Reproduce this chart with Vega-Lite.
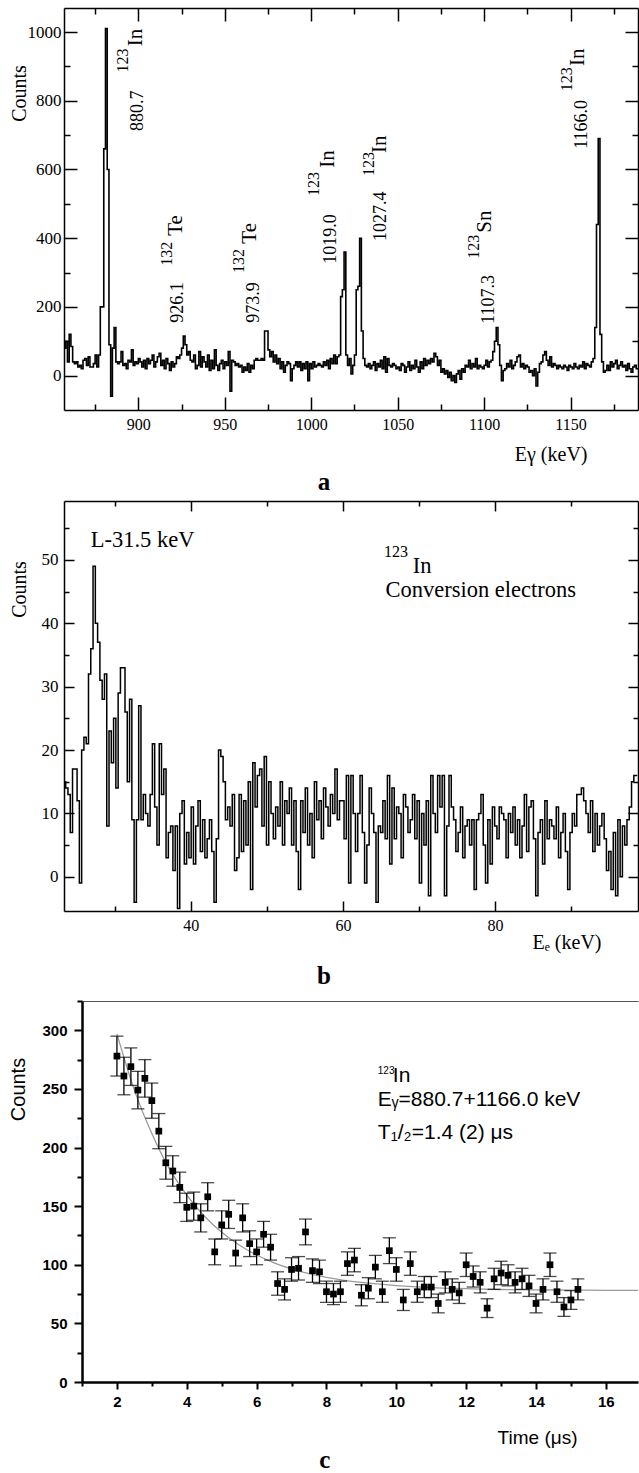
{
"$schema": "https://vega.github.io/schema/vega-lite/v6.json",
"background": "white",
"padding": {"left": 8, "top": 7, "right": 0, "bottom": 0},
"columns": 1,
"align": "none",
"spacing": 5,
"config": {"view": {"stroke": null}, "axis": {"grid": false, "labelOverlap": false, "labelColor": "black", "titleColor": "black", "tickColor": "black", "domainColor": "black"}},
"datasets": {
"sa": [{"e":857,"c":80},{"e":858,"c":100},{"e":859,"c":40},{"e":860,"c":120},{"e":861,"c":85},{"e":862,"c":40},{"e":863,"c":35},{"e":864,"c":40},{"e":865,"c":25},{"e":866,"c":30},{"e":867,"c":20},{"e":868,"c":45},{"e":869,"c":50},{"e":870,"c":30},{"e":871,"c":55},{"e":872,"c":25},{"e":873,"c":25},{"e":874,"c":35},{"e":875,"c":60},{"e":876,"c":25},{"e":877,"c":60},{"e":878,"c":200},{"e":879,"c":200},{"e":880,"c":660},{"e":881,"c":1010},{"e":882,"c":600},{"e":883,"c":90},{"e":884,"c":-60},{"e":885,"c":80},{"e":886,"c":140},{"e":887,"c":40},{"e":888,"c":35},{"e":889,"c":40},{"e":890,"c":70},{"e":891,"c":30},{"e":892,"c":35},{"e":893,"c":20},{"e":894,"c":45},{"e":895,"c":40},{"e":896,"c":75},{"e":897,"c":30},{"e":898,"c":40},{"e":899,"c":35},{"e":900,"c":50},{"e":901,"c":40},{"e":902,"c":25},{"e":903,"c":45},{"e":904,"c":20},{"e":905,"c":50},{"e":906,"c":35},{"e":907,"c":45},{"e":908,"c":60},{"e":909,"c":25},{"e":910,"c":40},{"e":911,"c":55},{"e":912,"c":65},{"e":913,"c":30},{"e":914,"c":45},{"e":915,"c":20},{"e":916,"c":50},{"e":917,"c":35},{"e":918,"c":15},{"e":919,"c":40},{"e":920,"c":25},{"e":921,"c":35},{"e":922,"c":55},{"e":923,"c":50},{"e":924,"c":60},{"e":925,"c":80},{"e":926,"c":115},{"e":927,"c":90},{"e":928,"c":60},{"e":929,"c":70},{"e":930,"c":45},{"e":931,"c":40},{"e":932,"c":60},{"e":933,"c":20},{"e":934,"c":30},{"e":935,"c":70},{"e":936,"c":25},{"e":937,"c":55},{"e":938,"c":40},{"e":939,"c":25},{"e":940,"c":60},{"e":941,"c":15},{"e":942,"c":45},{"e":943,"c":20},{"e":944,"c":75},{"e":945,"c":30},{"e":946,"c":15},{"e":947,"c":35},{"e":948,"c":45},{"e":949,"c":20},{"e":950,"c":40},{"e":951,"c":30},{"e":952,"c":70},{"e":953,"c":-45},{"e":954,"c":45},{"e":955,"c":40},{"e":956,"c":30},{"e":957,"c":35},{"e":958,"c":25},{"e":959,"c":30},{"e":960,"c":10},{"e":961,"c":25},{"e":962,"c":15},{"e":963,"c":35},{"e":964,"c":10},{"e":965,"c":30},{"e":966,"c":20},{"e":967,"c":45},{"e":968,"c":50},{"e":969,"c":45},{"e":970,"c":45},{"e":971,"c":50},{"e":972,"c":45},{"e":973,"c":130},{"e":974,"c":130},{"e":975,"c":75},{"e":976,"c":55},{"e":977,"c":70},{"e":978,"c":40},{"e":979,"c":60},{"e":980,"c":35},{"e":981,"c":50},{"e":982,"c":20},{"e":983,"c":40},{"e":984,"c":10},{"e":985,"c":30},{"e":986,"c":40},{"e":987,"c":35},{"e":988,"c":-15},{"e":989,"c":20},{"e":990,"c":30},{"e":991,"c":40},{"e":992,"c":25},{"e":993,"c":40},{"e":994,"c":15},{"e":995,"c":35},{"e":996,"c":20},{"e":997,"c":40},{"e":998,"c":-15},{"e":999,"c":35},{"e":1000,"c":20},{"e":1001,"c":40},{"e":1002,"c":25},{"e":1003,"c":30},{"e":1004,"c":35},{"e":1005,"c":30},{"e":1006,"c":25},{"e":1007,"c":40},{"e":1008,"c":30},{"e":1009,"c":45},{"e":1010,"c":20},{"e":1011,"c":50},{"e":1012,"c":35},{"e":1013,"c":60},{"e":1014,"c":35},{"e":1015,"c":55},{"e":1016,"c":60},{"e":1017,"c":230},{"e":1018,"c":250},{"e":1019,"c":360},{"e":1020,"c":60},{"e":1021,"c":30},{"e":1022,"c":50},{"e":1023,"c":5},{"e":1024,"c":30},{"e":1025,"c":60},{"e":1026,"c":250},{"e":1027,"c":260},{"e":1028,"c":400},{"e":1029,"c":130},{"e":1030,"c":50},{"e":1031,"c":30},{"e":1032,"c":25},{"e":1033,"c":35},{"e":1034,"c":20},{"e":1035,"c":30},{"e":1036,"c":40},{"e":1037,"c":15},{"e":1038,"c":35},{"e":1039,"c":25},{"e":1040,"c":45},{"e":1041,"c":20},{"e":1042,"c":55},{"e":1043,"c":10},{"e":1044,"c":50},{"e":1045,"c":30},{"e":1046,"c":25},{"e":1047,"c":35},{"e":1048,"c":30},{"e":1049,"c":20},{"e":1050,"c":25},{"e":1051,"c":15},{"e":1052,"c":35},{"e":1053,"c":30},{"e":1054,"c":10},{"e":1055,"c":25},{"e":1056,"c":40},{"e":1057,"c":15},{"e":1058,"c":30},{"e":1059,"c":20},{"e":1060,"c":45},{"e":1061,"c":25},{"e":1062,"c":10},{"e":1063,"c":40},{"e":1064,"c":20},{"e":1065,"c":50},{"e":1066,"c":30},{"e":1067,"c":45},{"e":1068,"c":35},{"e":1069,"c":50},{"e":1070,"c":40},{"e":1071,"c":65},{"e":1072,"c":55},{"e":1073,"c":30},{"e":1074,"c":45},{"e":1075,"c":10},{"e":1076,"c":20},{"e":1077,"c":5},{"e":1078,"c":15},{"e":1079,"c":-5},{"e":1080,"c":10},{"e":1081,"c":-15},{"e":1082,"c":0},{"e":1083,"c":-20},{"e":1084,"c":5},{"e":1085,"c":15},{"e":1086,"c":-10},{"e":1087,"c":20},{"e":1088,"c":10},{"e":1089,"c":30},{"e":1090,"c":25},{"e":1091,"c":45},{"e":1092,"c":20},{"e":1093,"c":35},{"e":1094,"c":25},{"e":1095,"c":50},{"e":1096,"c":20},{"e":1097,"c":30},{"e":1098,"c":25},{"e":1099,"c":20},{"e":1100,"c":30},{"e":1101,"c":45},{"e":1102,"c":25},{"e":1103,"c":40},{"e":1104,"c":45},{"e":1105,"c":70},{"e":1106,"c":100},{"e":1107,"c":140},{"e":1108,"c":90},{"e":1109,"c":30},{"e":1110,"c":-15},{"e":1111,"c":15},{"e":1112,"c":20},{"e":1113,"c":35},{"e":1114,"c":25},{"e":1115,"c":45},{"e":1116,"c":20},{"e":1117,"c":30},{"e":1118,"c":40},{"e":1119,"c":55},{"e":1120,"c":60},{"e":1121,"c":25},{"e":1122,"c":35},{"e":1123,"c":20},{"e":1124,"c":30},{"e":1125,"c":25},{"e":1126,"c":10},{"e":1127,"c":15},{"e":1128,"c":0},{"e":1129,"c":20},{"e":1130,"c":-30},{"e":1131,"c":10},{"e":1132,"c":35},{"e":1133,"c":40},{"e":1134,"c":60},{"e":1135,"c":70},{"e":1136,"c":45},{"e":1137,"c":30},{"e":1138,"c":55},{"e":1139,"c":25},{"e":1140,"c":35},{"e":1141,"c":30},{"e":1142,"c":20},{"e":1143,"c":30},{"e":1144,"c":25},{"e":1145,"c":20},{"e":1146,"c":30},{"e":1147,"c":25},{"e":1148,"c":15},{"e":1149,"c":30},{"e":1150,"c":25},{"e":1151,"c":20},{"e":1152,"c":35},{"e":1153,"c":25},{"e":1154,"c":20},{"e":1155,"c":30},{"e":1156,"c":25},{"e":1157,"c":40},{"e":1158,"c":20},{"e":1159,"c":35},{"e":1160,"c":30},{"e":1161,"c":25},{"e":1162,"c":40},{"e":1163,"c":50},{"e":1164,"c":140},{"e":1165,"c":440},{"e":1166,"c":690},{"e":1167,"c":120},{"e":1168,"c":40},{"e":1169,"c":10},{"e":1170,"c":15},{"e":1171,"c":30},{"e":1172,"c":15},{"e":1173,"c":40},{"e":1174,"c":25},{"e":1175,"c":35},{"e":1176,"c":45},{"e":1177,"c":20},{"e":1178,"c":30},{"e":1179,"c":40},{"e":1180,"c":25},{"e":1181,"c":30},{"e":1182,"c":15},{"e":1183,"c":35},{"e":1184,"c":20},{"e":1185,"c":10},{"e":1186,"c":25},{"e":1187,"c":30},{"e":1188,"c":20},{"e":1189,"c":20}],
"la": [{"t":"880.7","k":"num","x":902.6,"y":712},{"t":"123","k":"mass","x":894.2,"y":882},{"t":"In","k":"el","x":902.3,"y":959},{"t":"926.1","k":"num","x":926.0,"y":154},{"t":"132","k":"mass","x":919.6,"y":320},{"t":"Te","k":"el","x":925.4,"y":407},{"t":"973.9","k":"num","x":969.9,"y":154},{"t":"132","k":"mass","x":961.2,"y":299},{"t":"Te","k":"el","x":968.2,"y":384},{"t":"1019.0","k":"num","x":1014.4,"y":326},{"t":"123","k":"mass","x":1004.6,"y":523},{"t":"In","k":"el","x":1013.2,"y":605},{"t":"1027.4","k":"num","x":1043.3,"y":392},{"t":"123","k":"mass","x":1036.3,"y":581},{"t":"In","k":"el","x":1043.3,"y":648},{"t":"1107.3","k":"num","x":1105.7,"y":151},{"t":"123","k":"mass","x":1097.0,"y":340},{"t":"Sn","k":"el","x":1103.9,"y":416},{"t":"1166.0","k":"num","x":1159.4,"y":660},{"t":"123","k":"mass","x":1150.7,"y":828},{"t":"In","k":"el","x":1157.7,"y":901}],
"sb": [{"e":22.8,"c":24},{"e":23.1,"c":24},{"e":23.4,"c":15},{"e":23.7,"c":14},{"e":24.0,"c":13},{"e":24.3,"c":7},{"e":24.6,"c":17},{"e":24.9,"c":17},{"e":25.2,"c":12},{"e":25.5,"c":-1},{"e":25.8,"c":20},{"e":26.1,"c":22},{"e":26.4,"c":21},{"e":26.7,"c":32},{"e":27.0,"c":36},{"e":27.3,"c":49},{"e":27.6,"c":40},{"e":27.9,"c":37},{"e":28.2,"c":31},{"e":28.5,"c":28},{"e":28.8,"c":32},{"e":29.1,"c":8},{"e":29.4,"c":23},{"e":29.7,"c":18},{"e":30.0,"c":25},{"e":30.3,"c":14},{"e":30.6,"c":29},{"e":30.9,"c":33},{"e":31.2,"c":33},{"e":31.5,"c":26},{"e":31.8,"c":15},{"e":32.1,"c":28},{"e":32.4,"c":9},{"e":32.7,"c":-4},{"e":33.0,"c":9},{"e":33.3,"c":27},{"e":33.6,"c":9},{"e":33.9,"c":13},{"e":34.2,"c":10},{"e":34.5,"c":8},{"e":34.8,"c":13},{"e":35.1,"c":21},{"e":35.4,"c":11},{"e":35.7,"c":5},{"e":36.0,"c":21},{"e":36.3,"c":13},{"e":36.6,"c":17},{"e":36.9,"c":3},{"e":37.2,"c":7},{"e":37.5,"c":8},{"e":37.8,"c":1},{"e":38.1,"c":8},{"e":38.4,"c":-5},{"e":38.7,"c":10},{"e":39.0,"c":12},{"e":39.3,"c":2},{"e":39.6,"c":7},{"e":39.9,"c":3},{"e":40.2,"c":11},{"e":40.5,"c":2},{"e":40.8,"c":8},{"e":41.1,"c":12},{"e":41.4,"c":4},{"e":41.7,"c":9},{"e":42.0,"c":3},{"e":42.3,"c":6},{"e":42.6,"c":9},{"e":42.9,"c":4},{"e":43.2,"c":-4},{"e":43.5,"c":6},{"e":43.8,"c":20},{"e":44.1,"c":19},{"e":44.4,"c":15},{"e":44.7,"c":9},{"e":45.0,"c":11},{"e":45.3,"c":8},{"e":45.6,"c":13},{"e":45.9,"c":1},{"e":46.2,"c":3},{"e":46.5,"c":13},{"e":46.8,"c":4},{"e":47.1,"c":12},{"e":47.4,"c":5},{"e":47.7,"c":15},{"e":48.0,"c":-2},{"e":48.3,"c":18},{"e":48.6,"c":11},{"e":48.9,"c":16},{"e":49.2,"c":17},{"e":49.5,"c":8},{"e":49.8,"c":19},{"e":50.1,"c":5},{"e":50.4,"c":15},{"e":50.7,"c":10},{"e":51.0,"c":6},{"e":51.3,"c":11},{"e":51.6,"c":8},{"e":51.9,"c":15},{"e":52.2,"c":5},{"e":52.5,"c":12},{"e":52.8,"c":10},{"e":53.1,"c":14},{"e":53.4,"c":5},{"e":53.7,"c":12},{"e":54.0,"c":4},{"e":54.3,"c":-2},{"e":54.6,"c":12},{"e":54.9,"c":7},{"e":55.2,"c":14},{"e":55.5,"c":5},{"e":55.8,"c":10},{"e":56.1,"c":3},{"e":56.4,"c":15},{"e":56.7,"c":9},{"e":57.0,"c":12},{"e":57.3,"c":6},{"e":57.6,"c":14},{"e":57.9,"c":11},{"e":58.2,"c":8},{"e":58.5,"c":13},{"e":58.8,"c":10},{"e":59.1,"c":17},{"e":59.4,"c":9},{"e":59.7,"c":12},{"e":60.0,"c":12},{"e":60.3,"c":6},{"e":60.6,"c":16},{"e":60.9,"c":-1},{"e":61.2,"c":16},{"e":61.5,"c":10},{"e":61.8,"c":4},{"e":62.1,"c":10},{"e":62.4,"c":16},{"e":62.7,"c":7},{"e":63.0,"c":-1},{"e":63.3,"c":5},{"e":63.6,"c":14},{"e":63.9,"c":10},{"e":64.2,"c":7},{"e":64.5,"c":-4},{"e":64.8,"c":8},{"e":65.1,"c":7},{"e":65.4,"c":12},{"e":65.7,"c":6},{"e":66.0,"c":16},{"e":66.3,"c":2},{"e":66.6,"c":14},{"e":66.9,"c":6},{"e":67.2,"c":11},{"e":67.5,"c":10},{"e":67.8,"c":3},{"e":68.1,"c":13},{"e":68.4,"c":11},{"e":68.7,"c":7},{"e":69.0,"c":9},{"e":69.3,"c":13},{"e":69.6,"c":6},{"e":69.9,"c":12},{"e":70.2,"c":-1},{"e":70.5,"c":10},{"e":70.8,"c":5},{"e":71.1,"c":12},{"e":71.4,"c":-3},{"e":71.7,"c":16},{"e":72.0,"c":10},{"e":72.3,"c":7},{"e":72.6,"c":16},{"e":72.9,"c":11},{"e":73.2,"c":16},{"e":73.5,"c":-3},{"e":73.8,"c":8},{"e":74.1,"c":16},{"e":74.4,"c":11},{"e":74.7,"c":9},{"e":75.0,"c":4},{"e":75.3,"c":7},{"e":75.6,"c":11},{"e":75.9,"c":3},{"e":76.2,"c":8},{"e":76.5,"c":9},{"e":76.8,"c":5},{"e":77.1,"c":9},{"e":77.4,"c":-2},{"e":77.7,"c":9},{"e":78.0,"c":10},{"e":78.3,"c":13},{"e":78.6,"c":5},{"e":78.9,"c":-1},{"e":79.2,"c":9},{"e":79.5,"c":2},{"e":79.8,"c":11},{"e":80.1,"c":8},{"e":80.4,"c":6},{"e":80.7,"c":11},{"e":81.0,"c":10},{"e":81.3,"c":9},{"e":81.6,"c":3},{"e":81.9,"c":10},{"e":82.2,"c":7},{"e":82.5,"c":11},{"e":82.8,"c":5},{"e":83.1,"c":9},{"e":83.4,"c":3},{"e":83.7,"c":8},{"e":84.0,"c":13},{"e":84.3,"c":4},{"e":84.6,"c":11},{"e":84.9,"c":12},{"e":85.2,"c":6},{"e":85.5,"c":-3},{"e":85.8,"c":7},{"e":86.1,"c":9},{"e":86.4,"c":2},{"e":86.7,"c":12},{"e":87.0,"c":6},{"e":87.3,"c":9},{"e":87.6,"c":8},{"e":87.9,"c":6},{"e":88.2,"c":11},{"e":88.5,"c":3},{"e":88.8,"c":7},{"e":89.1,"c":10},{"e":89.4,"c":4},{"e":89.7,"c":-2},{"e":90.0,"c":7},{"e":90.3,"c":10},{"e":90.6,"c":8},{"e":90.9,"c":13},{"e":91.2,"c":13},{"e":91.5,"c":14},{"e":91.8,"c":12},{"e":92.1,"c":10},{"e":92.4,"c":7},{"e":92.7,"c":12},{"e":93.0,"c":4},{"e":93.3,"c":10},{"e":93.6,"c":5},{"e":93.9,"c":8},{"e":94.2,"c":10},{"e":94.5,"c":6},{"e":94.8,"c":1},{"e":95.1,"c":4},{"e":95.4,"c":-2},{"e":95.7,"c":7},{"e":96.0,"c":-3},{"e":96.3,"c":9},{"e":96.6,"c":0},{"e":96.9,"c":8},{"e":97.2,"c":5},{"e":97.5,"c":9},{"e":97.8,"c":11},{"e":98.1,"c":15},{"e":98.4,"c":16},{"e":98.7,"c":16}],
"lb": [{"t":"L-31.5 keV","k":"big","x":26.84,"y":52.05},{"t":"123","k":"mass","x":65.39,"y":50.4},{"t":"In","k":"big","x":69.2,"y":47.9},{"t":"Conversion electrons","k":"big","x":65.6,"y":44.1}],
"pc": [{"t":2.0,"c":278,"lo":261,"hi":295},{"t":2.2,"c":261,"lo":245,"hi":277},{"t":2.4,"c":269,"lo":253,"hi":285},{"t":2.6,"c":249,"lo":233,"hi":265},{"t":2.8,"c":259,"lo":243,"hi":275},{"t":3.0,"c":240,"lo":225,"hi":255},{"t":3.2,"c":214,"lo":199,"hi":229},{"t":3.4,"c":187,"lo":173,"hi":201},{"t":3.6,"c":180,"lo":167,"hi":193},{"t":3.8,"c":166,"lo":153,"hi":179},{"t":4.0,"c":149,"lo":137,"hi":161},{"t":4.2,"c":150,"lo":138,"hi":162},{"t":4.4,"c":140,"lo":128,"hi":152},{"t":4.6,"c":158,"lo":146,"hi":170},{"t":4.8,"c":111,"lo":100,"hi":122},{"t":5.0,"c":134,"lo":122,"hi":146},{"t":5.2,"c":143,"lo":131,"hi":155},{"t":5.4,"c":110,"lo":99,"hi":121},{"t":5.6,"c":140,"lo":128,"hi":152},{"t":5.8,"c":118,"lo":107,"hi":129},{"t":6.0,"c":111,"lo":100,"hi":122},{"t":6.2,"c":126,"lo":115,"hi":137},{"t":6.4,"c":115,"lo":104,"hi":126},{"t":6.6,"c":84,"lo":74,"hi":94},{"t":6.8,"c":79,"lo":70,"hi":88},{"t":7.0,"c":96,"lo":86,"hi":106},{"t":7.2,"c":97,"lo":87,"hi":107},{"t":7.4,"c":128,"lo":117,"hi":139},{"t":7.6,"c":95,"lo":85,"hi":105},{"t":7.8,"c":94,"lo":84,"hi":104},{"t":8.0,"c":77,"lo":68,"hi":86},{"t":8.2,"c":75,"lo":66,"hi":84},{"t":8.4,"c":77,"lo":68,"hi":86},{"t":8.6,"c":101,"lo":91,"hi":111},{"t":8.8,"c":104,"lo":94,"hi":114},{"t":9.0,"c":74,"lo":65,"hi":83},{"t":9.2,"c":80,"lo":71,"hi":89},{"t":9.4,"c":98,"lo":88,"hi":108},{"t":9.6,"c":77,"lo":68,"hi":86},{"t":9.8,"c":112,"lo":101,"hi":123},{"t":10.0,"c":96,"lo":86,"hi":106},{"t":10.2,"c":70,"lo":61,"hi":79},{"t":10.4,"c":101,"lo":91,"hi":111},{"t":10.6,"c":77,"lo":68,"hi":86},{"t":10.8,"c":81,"lo":72,"hi":90},{"t":11.0,"c":81,"lo":72,"hi":90},{"t":11.2,"c":67,"lo":59,"hi":75},{"t":11.4,"c":85,"lo":76,"hi":94},{"t":11.6,"c":79,"lo":70,"hi":88},{"t":11.8,"c":76,"lo":67,"hi":85},{"t":12.0,"c":100,"lo":90,"hi":110},{"t":12.2,"c":90,"lo":81,"hi":99},{"t":12.4,"c":85,"lo":76,"hi":94},{"t":12.6,"c":63,"lo":55,"hi":71},{"t":12.8,"c":88,"lo":79,"hi":97},{"t":13.0,"c":93,"lo":83,"hi":103},{"t":13.2,"c":91,"lo":82,"hi":100},{"t":13.4,"c":85,"lo":76,"hi":94},{"t":13.6,"c":88,"lo":79,"hi":97},{"t":13.8,"c":82,"lo":73,"hi":91},{"t":14.0,"c":67,"lo":59,"hi":75},{"t":14.2,"c":79,"lo":70,"hi":88},{"t":14.4,"c":100,"lo":90,"hi":110},{"t":14.6,"c":77,"lo":68,"hi":86},{"t":14.8,"c":64,"lo":56,"hi":72},{"t":15.0,"c":70,"lo":62,"hi":78},{"t":15.2,"c":79,"lo":70,"hi":88}],
"fc": [{"t":2.0,"c":297},{"t":2.5,"c":249},{"t":3.0,"c":212},{"t":3.5,"c":182},{"t":4.0,"c":159.5},{"t":4.5,"c":141.6},{"t":5.0,"c":127.7},{"t":5.5,"c":116.8},{"t":6.0,"c":108.3},{"t":6.5,"c":101.6},{"t":7.0,"c":96.4},{"t":7.5,"c":92.4},{"t":8.0,"c":89.3},{"t":9.0,"c":84.9},{"t":10.0,"c":82.2},{"t":11.0,"c":80.5},{"t":12.0,"c":79.6},{"t":13.0,"c":78.9},{"t":14.0,"c":78.6},{"t":15.0,"c":78.4},{"t":16.0,"c":78.2},{"t":16.92,"c":78.1}],
"lc": [{"t":"123","k":"mass","x":9.47,"y":263},{"t":"In","k":"big","x":9.9,"y":256},{"t":"Eᵧ=880.7+1166.0 keV","k":"big","x":9.47,"y":235.5},{"t":"T₁/₂=1.4 (2) μs","k":"big","x":9.47,"y":207}]
},
"concat": [
{
"width": 574, "height": 402,
"title": {"text": "a", "orient": "bottom", "anchor": "middle", "frame": "bounds", "font": "Liberation Serif", "fontSize": 25, "fontWeight": "bold", "color": "black", "offset": 6},
"resolve": {"axis": {"x": "independent", "y": "independent"}},
"layer": [
{"data": {"name": "sa"}, "mark": {"type": "line", "interpolate": "step-after", "color": "black", "strokeWidth": 1.6, "clip": true},
 "encoding": {
  "x": {"field": "e", "type": "quantitative", "scale": {"domain": [857, 1189], "nice": false, "zero": false},
        "axis": {"orient": "bottom", "values": [875,900,925,950,975,1000,1025,1050,1075,1100,1125,1150,1175], "format": "d", "labelExpr": "datum.value % 50 === 0 ? datum.label : ''", "tickSize": {"condition": {"test": "datum.value % 50 === 0", "value": -13}, "value": -6}, "tickWidth": 1.5, "domainWidth": 1.5, "labelPadding": 19, "labelFont": "Liberation Serif", "labelFontSize": 16, "title": "Eγ (keV)", "titleFont": "Liberation Serif", "titleFontSize": 20, "titleFontWeight": "normal", "titleAlign": "right", "titleX": 523, "titlePadding": 5}},
  "y": {"field": "c", "type": "quantitative", "scale": {"domain": [-100, 1070], "nice": false, "zero": false},
        "axis": {"orient": "left", "values": [0,100,200,300,400,500,600,700,800,900,1000], "format": "d", "labelExpr": "datum.value % 200 === 0 ? datum.label : ''", "tickSize": {"condition": {"test": "datum.value % 200 === 0", "value": -13}, "value": -6}, "tickWidth": 1.5, "domainWidth": 1.5, "labelPadding": 16, "labelFont": "Liberation Serif", "labelFontSize": 17, "title": "Counts", "titleFont": "Liberation Serif", "titleFontSize": 20, "titleFontWeight": "normal", "titleAnchor": "middle", "titleAlign": "center", "titleY": 85, "titlePadding": -2}}
 }},
{"data": {"name": "la"}, "transform": [{"filter": "datum.k === 'num'"}],
 "mark": {"type": "text", "angle": 270, "align": "left", "baseline": "alphabetic", "font": "Liberation Serif", "fontSize": 18, "color": "black"},
 "encoding": {
  "x": {"field": "x", "type": "quantitative", "scale": {"domain": [857, 1189], "nice": false, "zero": false},
        "axis": {"orient": "top", "values": [875,900,925,950,975,1000,1025,1050,1075,1100,1125,1150,1175], "labels": false, "tickSize": {"condition": {"test": "datum.value % 50 === 0", "value": -13}, "value": -6}, "tickWidth": 1.5, "domainWidth": 1.5, "title": null}},
  "y": {"field": "y", "type": "quantitative", "scale": {"domain": [-100, 1070], "nice": false, "zero": false},
        "axis": {"orient": "right", "values": [0,100,200,300,400,500,600,700,800,900,1000], "labels": false, "tickSize": {"condition": {"test": "datum.value % 200 === 0", "value": -13}, "value": -6}, "tickWidth": 1.5, "domainWidth": 1.5, "title": null}},
  "text": {"field": "t"}
 }},
{"data": {"name": "la"}, "transform": [{"filter": "datum.k === 'mass'"}],
 "mark": {"type": "text", "angle": 270, "align": "left", "baseline": "alphabetic", "font": "Liberation Serif", "fontSize": 16, "color": "black"},
 "encoding": {
  "x": {"field": "x", "type": "quantitative", "scale": {"domain": [857, 1189], "nice": false, "zero": false}, "axis": null},
  "y": {"field": "y", "type": "quantitative", "scale": {"domain": [-100, 1070], "nice": false, "zero": false}, "axis": null},
  "text": {"field": "t"}
 }},
{"data": {"name": "la"}, "transform": [{"filter": "datum.k === 'el'"}],
 "mark": {"type": "text", "angle": 270, "align": "left", "baseline": "alphabetic", "font": "Liberation Serif", "fontSize": 21, "color": "black"},
 "encoding": {
  "x": {"field": "x", "type": "quantitative", "scale": {"domain": [857, 1189], "nice": false, "zero": false}, "axis": null},
  "y": {"field": "y", "type": "quantitative", "scale": {"domain": [-100, 1070], "nice": false, "zero": false}, "axis": null},
  "text": {"field": "t"}
 }}
]
},
{
"width": 574, "height": 410,
"title": {"text": "b", "orient": "bottom", "anchor": "middle", "frame": "bounds", "font": "Liberation Serif", "fontSize": 25, "fontWeight": "bold", "color": "black", "offset": 12},
"resolve": {"axis": {"x": "independent", "y": "independent"}},
"layer": [
{"data": {"name": "sb"}, "mark": {"type": "line", "interpolate": "step", "color": "black", "strokeWidth": 1.5, "clip": true},
 "encoding": {
  "x": {"field": "e", "type": "quantitative", "scale": {"domain": [23.33, 98.8], "nice": false, "zero": false},
        "axis": {"orient": "bottom", "values": [30,40,50,60,70,80,90], "format": "d", "labelExpr": "datum.value % 20 === 0 ? datum.label : ''", "tickSize": {"condition": {"test": "datum.value % 20 === 0", "value": -10}, "value": -5}, "tickWidth": 1.5, "domainWidth": 1.5, "labelPadding": 16, "labelFont": "Liberation Serif", "labelFontSize": 16, "title": "Eₑ (keV)", "titleFont": "Liberation Serif", "titleFontSize": 20, "titleFontWeight": "normal", "titleAlign": "right", "titleX": 537, "titlePadding": -6}},
  "y": {"field": "c", "type": "quantitative", "scale": {"domain": [-5.4, 59.3], "nice": false, "zero": false},
        "axis": {"orient": "left", "values": [0,5,10,15,20,25,30,35,40,45,50,55], "format": "d", "labelExpr": "datum.value % 10 === 0 ? datum.label : ''", "tickSize": {"condition": {"test": "datum.value % 10 === 0", "value": -10}, "value": -5}, "tickWidth": 1.5, "domainWidth": 1.5, "labelPadding": 16, "labelFont": "Liberation Serif", "labelFontSize": 17, "title": "Counts", "titleFont": "Liberation Serif", "titleFontSize": 20, "titleFontWeight": "normal", "titleAnchor": "middle", "titleAlign": "center", "titleY": 88, "titlePadding": 12}}
 }},
{"data": {"name": "lb"}, "transform": [{"filter": "datum.k === 'big'"}],
 "mark": {"type": "text", "align": "left", "baseline": "alphabetic", "font": "Liberation Serif", "fontSize": 22.5, "color": "black"},
 "encoding": {
  "x": {"field": "x", "type": "quantitative", "scale": {"domain": [23.33, 98.8], "nice": false, "zero": false},
        "axis": {"orient": "top", "values": [30,40,50,60,70,80,90], "labels": false, "tickSize": {"condition": {"test": "datum.value % 20 === 0", "value": -10}, "value": -5}, "tickWidth": 1.5, "domainWidth": 1.5, "title": null}},
  "y": {"field": "y", "type": "quantitative", "scale": {"domain": [-5.4, 59.3], "nice": false, "zero": false},
        "axis": {"orient": "right", "values": [0,5,10,15,20,25,30,35,40,45,50,55], "labels": false, "tickSize": {"condition": {"test": "datum.value % 10 === 0", "value": -10}, "value": -5}, "tickWidth": 1.5, "domainWidth": 1.5, "title": null}},
  "text": {"field": "t"}
 }},
{"data": {"name": "lb"}, "transform": [{"filter": "datum.k === 'mass'"}],
 "mark": {"type": "text", "align": "left", "baseline": "alphabetic", "font": "Liberation Serif", "fontSize": 16, "color": "black"},
 "encoding": {
  "x": {"field": "x", "type": "quantitative", "scale": {"domain": [23.33, 98.8], "nice": false, "zero": false}, "axis": null},
  "y": {"field": "y", "type": "quantitative", "scale": {"domain": [-5.4, 59.3], "nice": false, "zero": false}, "axis": null},
  "text": {"field": "t"}
 }}
]
},
{
"width": 574, "height": 381,
"title": {"text": "c", "orient": "bottom", "anchor": "middle", "frame": "bounds", "font": "Liberation Serif", "fontSize": 25, "fontWeight": "bold", "color": "black", "offset": 1},
"resolve": {"axis": {"x": "independent", "y": "independent"}},
"layer": [
{"data": {"name": "fc"}, "mark": {"type": "line", "interpolate": "monotone", "color": "#9a9a9a", "strokeWidth": 1.3},
 "encoding": {
  "x": {"field": "t", "type": "quantitative", "scale": {"domain": [1, 16.92], "range": [18, 574], "nice": false, "zero": false},
        "axis": {"orient": "bottom", "values": [1,2,3,4,5,6,7,8,9,10,11,12,13,14,15,16], "format": "d", "labelExpr": "datum.value % 2 === 0 ? datum.label : ''", "tickSize": {"condition": {"test": "datum.value % 2 === 0", "value": 7}, "value": 4}, "tickWidth": 2, "domainWidth": 2.5, "labelPadding": 5, "labelFont": "Liberation Sans", "labelFontSize": 15, "labelFontWeight": "bold", "title": "Time (μs)", "titleFont": "Liberation Sans", "titleFontSize": 19, "titleFontWeight": "normal", "titleAlign": "right", "titleX": 513, "titlePadding": 19}},
  "y": {"field": "c", "type": "quantitative", "scale": {"domain": [0, 325], "nice": false, "zero": false},
        "axis": {"orient": "left", "offset": -18, "values": [0,25,50,75,100,125,150,175,200,225,250,275,300,325], "format": "d", "labelExpr": "datum.value % 50 === 0 ? datum.label : ''", "tickSize": {"condition": {"test": "datum.value % 50 === 0", "value": 8}, "value": 5}, "tickWidth": 2, "domainWidth": 2.5, "labelPadding": 7, "labelFont": "Liberation Sans", "labelFontSize": 15, "labelFontWeight": "bold", "title": "Counts", "titleFont": "Liberation Sans", "titleFontSize": 20, "titleFontWeight": "normal", "titleAnchor": "middle", "titleAlign": "center", "titleY": 88, "titlePadding": 13}}
 }},
{"data": {"name": "pc"}, "mark": {"type": "rule", "color": "black", "strokeWidth": 1.3},
 "encoding": {
  "x": {"field": "t", "type": "quantitative", "scale": {"domain": [1, 16.92], "range": [18, 574], "nice": false, "zero": false}, "axis": null},
  "y": {"field": "lo", "type": "quantitative", "scale": {"domain": [0, 325], "nice": false, "zero": false}, "axis": null},
  "y2": {"field": "hi"}
 }},
{"data": {"name": "pc"}, "mark": {"type": "tick", "orient": "horizontal", "color": "black", "size": 13, "thickness": 1.3},
 "encoding": {
  "x": {"field": "t", "type": "quantitative", "scale": {"domain": [1, 16.92], "range": [18, 574], "nice": false, "zero": false}, "axis": null},
  "y": {"field": "lo", "type": "quantitative", "scale": {"domain": [0, 325], "nice": false, "zero": false}, "axis": null}
 }},
{"data": {"name": "pc"}, "mark": {"type": "tick", "orient": "horizontal", "color": "black", "size": 13, "thickness": 1.3},
 "encoding": {
  "x": {"field": "t", "type": "quantitative", "scale": {"domain": [1, 16.92], "range": [18, 574], "nice": false, "zero": false}, "axis": null},
  "y": {"field": "hi", "type": "quantitative", "scale": {"domain": [0, 325], "nice": false, "zero": false}, "axis": null}
 }},
{"data": {"name": "pc"}, "mark": {"type": "point", "shape": "square", "filled": true, "color": "black", "size": 45, "opacity": 1},
 "encoding": {
  "x": {"field": "t", "type": "quantitative", "scale": {"domain": [1, 16.92], "range": [18, 574], "nice": false, "zero": false},
        "axis": {"orient": "top", "ticks": false, "labels": false, "domainColor": "#555555", "domainWidth": 1.2, "title": null}},
  "y": {"field": "c", "type": "quantitative", "scale": {"domain": [0, 325], "nice": false, "zero": false}, "axis": null}
 }},
{"data": {"name": "lc"}, "transform": [{"filter": "datum.k === 'big'"}],
 "mark": {"type": "text", "align": "left", "baseline": "alphabetic", "font": "Liberation Sans", "fontSize": 21, "color": "black"},
 "encoding": {
  "x": {"field": "x", "type": "quantitative", "scale": {"domain": [1, 16.92], "range": [18, 574], "nice": false, "zero": false}, "axis": null},
  "y": {"field": "y", "type": "quantitative", "scale": {"domain": [0, 325], "nice": false, "zero": false}, "axis": null},
  "text": {"field": "t"}
 }},
{"data": {"name": "lc"}, "transform": [{"filter": "datum.k === 'mass'"}],
 "mark": {"type": "text", "align": "left", "baseline": "alphabetic", "font": "Liberation Sans", "fontSize": 10, "color": "black"},
 "encoding": {
  "x": {"field": "x", "type": "quantitative", "scale": {"domain": [1, 16.92], "range": [18, 574], "nice": false, "zero": false}, "axis": null},
  "y": {"field": "y", "type": "quantitative", "scale": {"domain": [0, 325], "nice": false, "zero": false}, "axis": null},
  "text": {"field": "t"}
 }}
]
}
]
}
